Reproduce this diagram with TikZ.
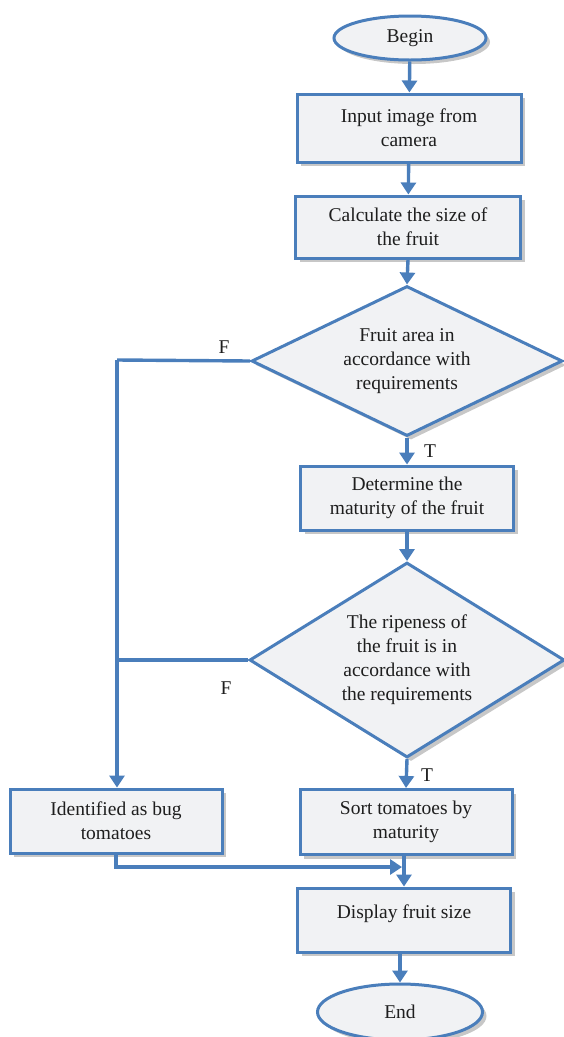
\documentclass[tikz,border=0pt]{standalone}
\usepackage{fontspec}
\setmainfont{Liberation Serif}
\usetikzlibrary{shapes.geometric,arrows.meta,shadows}
\definecolor{bblue}{RGB}{74,126,187}
\definecolor{bfill}{RGB}{241,242,244}
\definecolor{txt}{RGB}{30,30,30}
\tikzset{
  base/.style={draw=bblue, line width=3pt, fill=bfill, text=txt, align=center, inner sep=0pt,
    font=\fontsize{19.5}{24}\selectfont,
    drop shadow={shadow xshift=4pt, shadow yshift=-4pt, fill=black!22, opacity=1}},
  procbox/.style={base, rectangle},
  term/.style={base, ellipse},
  decide/.style={base, diamond},
  flow/.style={draw=bblue, line width=3.4pt, -{Triangle[length=12pt,width=15pt]}},
  plain/.style={draw=bblue, line width=3.4pt},
  lab/.style={text=txt, font=\fontsize{19.5}{24}\selectfont, inner sep=0pt}
}
\begin{document}
\begin{tikzpicture}[x=1pt,y=-1pt]
\useasboundingbox (0,0) rectangle (563,1037);
\node[term, minimum width=152pt, minimum height=44pt] (begin) at (410,38) {Begin};
\node[procbox, minimum width=224pt, minimum height=68pt] (input) at (409,128) {Input image from\\camera};
\node[procbox, minimum width=225pt, minimum height=62pt] (calc) at (408,227) {Calculate the size of\\the fruit};
\node[decide, shape aspect=2.07, minimum width=311pt, minimum height=150pt] (d1) at (407,361) {Fruit area in\\accordance with\\requirements};
\node[procbox, minimum width=213pt, minimum height=64pt] (det) at (407,498) {Determine the\\maturity of the fruit};
\node[decide, shape aspect=1.6, minimum width=315pt, minimum height=195pt] (d2) at (407,660) {The ripeness of\\the fruit is in\\accordance with\\the requirements};
\node[procbox, minimum width=212pt, minimum height=65pt] (sort) at (406,822) {Sort tomatoes by\\maturity};
\node[procbox, minimum width=212pt, minimum height=64pt] (ident) at (116,821) {Identified as bug\\tomatoes};
\node[procbox, minimum width=213pt, minimum height=64pt] (disp) at (404,920) {Display fruit size\\[-8pt]\mbox{}};
\node[term, minimum width=165pt, minimum height=56pt] (end) at (400,1012) {End};

\coordinate (c1) at (117,360);
\coordinate (m) at (402,867);

\draw[flow] (begin) -- (input);
\draw[flow] (input) -- (calc);
\draw[flow] (calc.south) -- (d1.north);
\draw[flow] (d1.south) -- (det.north);
\draw[flow] (det.south) -- (d2.north);
\draw[flow] (d2.south) -- (sort.north);
\draw[flow] (sort.south -| disp.north) -- (disp.north);
\draw[flow] (disp.south -| end.north) -- (end.north);
\draw[plain] (d1.west) -- (c1);
\draw[flow] (c1) -- (c1 |- ident.north);
\draw[plain] (d2.west) -- (c1 |- d2.west);
\draw[flow] (ident.south) |- (m);

\node[lab] (f1) at (224,347) {F};
\node[lab] (t1) at (430,451) {T};
\node[lab] (f2) at (226,688) {F};
\node[lab] (t2) at (427,775) {T};
\end{tikzpicture}
\end{document}
